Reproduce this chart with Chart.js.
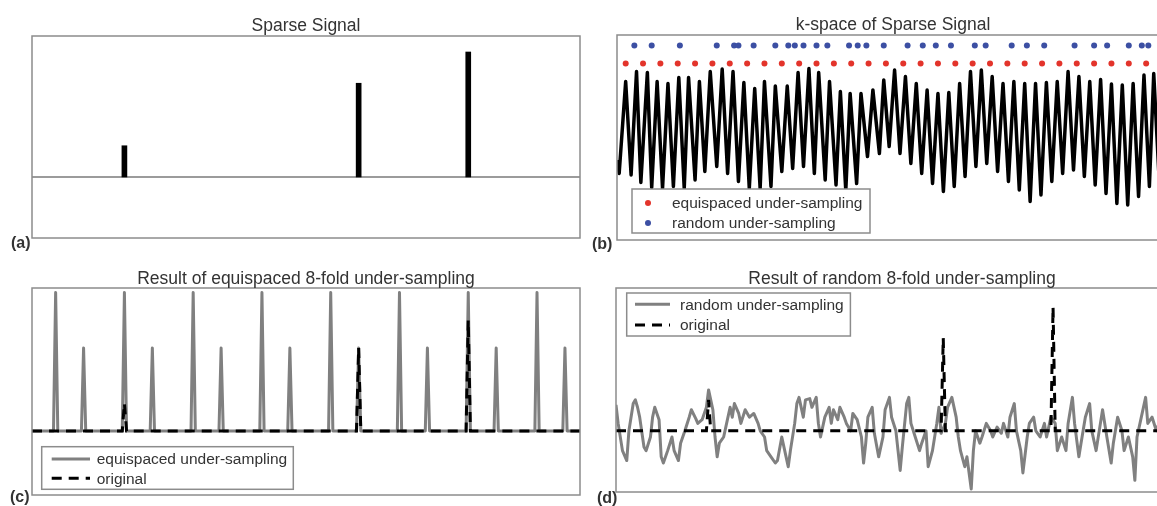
<!DOCTYPE html>
<html><head><meta charset="utf-8">
<script src="https://cdn.jsdelivr.net/npm/chart.js@4.4.1/dist/chart.umd.min.js"></script>
<style>
html,body{margin:0;padding:0;background:#fff;}
body{width:1157px;height:506px;overflow:hidden;position:relative;font-family:"Liberation Sans",Arial,sans-serif;}
canvas{position:absolute;}
.lbl{position:absolute;font-weight:bold;font-size:16px;color:#333;line-height:16px;}
</style></head><body>
<canvas id="ca" width="590" height="250" style="left:0;top:0"></canvas>
<canvas id="cb" width="590" height="250" style="left:590px;top:0"></canvas>
<canvas id="cc" width="590" height="256" style="left:0;top:250px"></canvas>
<canvas id="cd" width="590" height="256" style="left:590px;top:250px"></canvas>
<div class="lbl" style="left:11px;top:235px">(a)</div>
<div class="lbl" style="left:592px;top:236px">(b)</div>
<div class="lbl" style="left:10px;top:489px">(c)</div>
<div class="lbl" style="left:597px;top:490px">(d)</div>
<script>
// ---------------- data ----------------
const N_SAMPLES = 256;
// (a) sparse signal
const sparseIdx = [44, 153, 204];
const sparseVal = [0.25, 0.75, 1.0];

// (b) k-space (real part), read as alternating peaks / troughs
const kIdx = [1,2,5,7.5,10,12,15,17,19.5,22,24.5,27,29.5,32,34,37,39,41.5,44,47,49.5,52,54.5,57,59.5,62,64.5,67,69,72,74,77,79.5,82,84.5,87,89.5,92,94,97,99,102,104,106.5,108.5,111.5,113.5,116.5,119,122,124,126.5,129,131.5,134,136.5,139,141.5,144,146.5,149,151.5,154,156.5,159,161.5,164,166.5,169,171.5,174,176.5,179,181.5,184,186.5,189,191.5,194,196.5,199,201.5,204,206.5,209,211.5,214,216.5,219,221.5,224,226.5,229,231.5,234,236.5,239,241.5,244,246.5,248.5,251,253.5,256];
const kVal = [-0.6,-0.87,0.97,-0.90,1.17,-1.05,1.15,-1.15,0.97,-1.17,0.93,-1.13,1.05,-1.17,1.05,-1.0,0.97,-0.83,1.17,-0.73,1.22,-0.87,1.17,-1.03,0.95,-1.17,0.83,-1.17,0.97,-1.13,0.88,-0.83,0.88,-0.77,1.15,-0.73,1.23,-0.87,1.15,-1.0,0.97,-1.1,0.77,-1.21,0.73,-1.07,0.73,-0.53,0.8,-0.47,1.0,-0.33,1.2,-0.47,1.07,-0.67,0.93,-0.87,0.8,-1.07,0.73,-1.23,0.75,-1.13,0.93,-0.93,1.17,-0.73,1.2,-0.67,1.07,-0.83,0.93,-1.03,0.97,-1.2,0.93,-1.43,0.93,-1.3,0.95,-1.03,0.97,-0.87,1.17,-0.8,1.07,-0.93,0.97,-1.1,1.01,-1.27,0.92,-1.47,0.9,-1.5,0.93,-1.33,1.1,-1.13,1.13,-1.0,1.0,-0.9];
// sampled k-space locations
const equiIdx = [5,13,21,29,37,45,53,61,69,77,85,93,101,109,117,125,133,141,149,157,165,173,181,189,197,205,213,221,229,237,245,253];
const randIdx = [9,17,30,47,55,57,64,74,80,83,87,93,98,108,112,116,124,135,142,148,155,166,171,183,190,198,212,221,227,237,243,246];
const equiRow = 1.33;
const randRow = 1.69;

// (c) equispaced 8-fold reconstruction: aliased copies
const aliasIdx = [12,25,44,57,76,89,108,121,140,153,172,185,204,217,236,249];
const aliasVal = [1.25,0.75,1.25,0.75,1.25,0.75,1.25,0.75,1.25,0.75,1.25,0.75,1.25,0.75,1.25,0.75];

// (d) random 8-fold reconstruction (noisy)
const recIdx = [1,2,4,6,7,9,10,11,12,14,15,17,18,19,21,22,23,25,27,28,30,31,32,33,35,36,38,39,41,43,44,46,47,48,49,51,52,54,55,56,58,59,61,63,65,67,68,70,71,73,75,76,78,80,81,82,84,85,86,88,89,91,92,94,95,96,98,100,101,102,104,105,107,108,110,111,113,115,116,117,118,120,121,123,125,126,128,129,131,132,133,134,136,137,138,140,142,143,145,146,148,150,151,152,154,155,157,159,160,161,163,164,166,167,168,170,171,173,175,176,178,180,181,183,184,186,187,189,190,192,193,195,196,198,200,201,203,205,206,208,210,211,213,214,216,217,219,221,222,224,226,227,229,231,232,234,236,237,239,241,242,243,245,247,248,250,252,254,256];
const recVal = [0.21,0.06,-0.16,-0.24,0.00,0.22,0.25,0.19,0.11,-0.13,-0.16,-0.05,0.11,0.19,0.09,-0.21,-0.26,-0.16,-0.05,-0.16,-0.24,-0.10,-0.05,0.00,0.11,0.17,0.10,0.06,0.09,0.19,0.33,0.17,-0.05,-0.21,-0.10,-0.05,0.03,0.19,0.11,0.22,0.14,0.06,0.17,0.11,0.14,0.06,0.00,-0.05,-0.16,-0.21,-0.26,-0.24,-0.05,-0.21,-0.29,-0.16,0.06,0.22,0.27,0.11,0.25,0.26,0.19,0.27,0.06,-0.05,0.11,0.19,0.06,0.17,0.09,0.19,0.11,0.06,0.00,0.14,0.09,-0.05,-0.26,-0.10,0.11,0.19,-0.02,-0.21,-0.05,0.17,0.27,0.11,0.00,-0.16,-0.32,-0.13,0.22,0.27,0.06,-0.05,-0.16,-0.10,0.00,-0.29,-0.16,0.06,0.19,-0.02,0.06,0.19,0.27,0.11,-0.05,-0.16,-0.29,-0.21,-0.47,-0.16,0.00,-0.10,-0.05,0.06,0.00,-0.05,0.03,-0.02,0.06,-0.05,0.11,0.22,0.00,-0.16,-0.34,-0.05,0.06,0.11,0.00,-0.05,0.06,-0.05,0.11,0.06,-0.16,-0.05,-0.16,0.06,0.27,0.06,-0.21,-0.10,0.11,0.22,0.00,-0.16,0.06,0.17,-0.05,-0.26,-0.10,0.11,0.00,-0.16,-0.05,-0.21,-0.40,-0.05,0.11,0.27,0.06,0.11,0.00,0.10,-0.05];

// ---------------- helpers ----------------
const pts = (xs, ys) => xs.map((x, i) => ({x: x, y: ys[i]}));
const rowPts = (xs, level) => xs.map(x => ({x: x, y: level}));
function spikeTrain(idx, val) {           // flat zero line with the listed samples
  const out = [];
  for (let i = 1; i <= N_SAMPLES; i++) out.push({x: i, y: 0});
  idx.forEach((k, j) => { out[k - 1].y = val[j]; });
  return out;
}

const BOX = '#8c8c8c', TXT = '#333333', GRAY = '#808080';
const RED = '#e3342b', BLUE = '#3c4fa3';
const FONT = '"Liberation Sans", Arial, Helvetica, sans-serif';

function panelPlugin(p) {
  return {
    id: 'panel',
    afterDraw(chart) {
      const ctx = chart.ctx, a = chart.chartArea;
      ctx.save();
      ctx.strokeStyle = BOX; ctx.lineWidth = 1.5;
      ctx.strokeRect(a.left, a.top, a.right - a.left, a.bottom - a.top);
      ctx.fillStyle = TXT;
      ctx.font = '17.5px ' + FONT;
      ctx.textAlign = 'center'; ctx.textBaseline = 'alphabetic';
      ctx.fillText(p.title, p.titleX, a.top - p.titleGap);
      if (p.legend) {
        const L = p.legend;
        ctx.fillStyle = '#fff';
        ctx.fillRect(L.x, L.y, L.w, L.h);
        ctx.strokeStyle = BOX; ctx.lineWidth = 1.5;
        ctx.strokeRect(L.x, L.y, L.w, L.h);
        ctx.font = '15.5px ' + FONT;
        ctx.textAlign = 'left'; ctx.textBaseline = 'middle';
        L.items.forEach((it, i) => {
          const ds = chart.data.datasets[it.ds];
          const y = L.rows[i];
          if (it.kind === 'dot') {
            ctx.fillStyle = ds.backgroundColor;
            ctx.beginPath(); ctx.arc(L.symX + 10, y, 3, 0, Math.PI * 2); ctx.fill();
          } else {
            ctx.strokeStyle = ds.borderColor; ctx.lineWidth = ds.borderWidth;
            ctx.setLineDash(ds.borderDash || []);
            ctx.beginPath(); ctx.moveTo(L.symX, y); ctx.lineTo(L.symX + L.symW, y); ctx.stroke();
            ctx.setLineDash([]);
          }
          ctx.fillStyle = TXT;
          ctx.fillText(ds.label, L.textX, y + 1);
        });
      }
      ctx.restore();
    }
  };
}

function baseOptions(pad, yMin, yMax) {
  return {
    responsive: false, animation: false, devicePixelRatio: 1,
    layout: {padding: pad},
    plugins: {legend: {display: false}, tooltip: {enabled: false}, title: {display: false}},
    scales: {
      x: {type: 'linear', min: 1, max: N_SAMPLES, display: false, offset: false},
      y: {type: 'linear', min: yMin, max: yMax, display: false}
    },
    elements: {point: {radius: 0}, line: {tension: 0}}
  };
}

// ---------------- (a) ----------------
new Chart(document.getElementById('ca'), {
  type: 'bar',
  data: {datasets: [
    {type: 'bar', label: 'sparse', data: pts(sparseIdx, sparseVal), backgroundColor: '#000', barThickness: 5, order: 0},
    {type: 'line', label: 'baseline', data: pts([1, N_SAMPLES], [0, 0]), borderColor: '#7a7a7a', borderWidth: 1.5, order: 1}
  ]},
  options: baseOptions({left: 32, right: 10, top: 36, bottom: 12}, -0.488, 1.128),
  plugins: [panelPlugin({title: 'Sparse Signal', titleX: 306, titleGap: 5.5})]
});

// ---------------- (b) ----------------
new Chart(document.getElementById('cb'), {
  type: 'line',
  data: {datasets: [
    {label: 'equispaced under-sampling', data: rowPts(equiIdx, equiRow), showLine: false, pointRadius: 3, pointBorderWidth: 0, backgroundColor: RED, borderColor: RED, order: 0},
    {label: 'random under-sampling', data: rowPts(randIdx, randRow), showLine: false, pointRadius: 3, pointBorderWidth: 0, backgroundColor: BLUE, borderColor: BLUE, order: 0},
    {label: 'k-space', data: pts(kIdx, kVal), borderColor: '#000', borderWidth: 3.5, borderJoinStyle: 'round', order: 2}
  ]},
  options: baseOptions({left: 27, right: 10, top: 35, bottom: 10}, -2.2, 1.9),
  plugins: [panelPlugin({title: 'k-space of Sparse Signal', titleX: 303, titleGap: 5,
    legend: {x: 42, y: 189, w: 238, h: 44, symX: 48, symW: 20, textX: 82, rows: [203, 223],
      items: [{ds: 0, kind: 'dot'}, {ds: 1, kind: 'dot'}]}})]
});

// ---------------- (c) ----------------
new Chart(document.getElementById('cc'), {
  type: 'line',
  data: {datasets: [
    {label: 'equispaced under-sampling', data: spikeTrain(aliasIdx, aliasVal), borderColor: GRAY, borderWidth: 3, borderJoinStyle: 'round', order: 2},
    {label: 'original', data: spikeTrain(sparseIdx, sparseVal), borderColor: '#000', borderWidth: 3, borderDash: [10, 7], order: 1}
  ]},
  options: baseOptions({left: 32, right: 10, top: 38, bottom: 11}, -0.577, 1.291),
  plugins: [panelPlugin({title: 'Result of equispaced 8-fold under-sampling', titleX: 306, titleGap: 4.5,
    legend: {x: 41.7, y: 196.7, w: 251.6, h: 42.6, symX: 51.7, symW: 38.3, textX: 96.7, rows: [209, 228.3],
      items: [{ds: 0, kind: 'line'}, {ds: 1, kind: 'line'}]}})]
});

// ---------------- (d) ----------------
new Chart(document.getElementById('cd'), {
  type: 'line',
  data: {datasets: [
    {label: 'random under-sampling', data: pts(recIdx, recVal), borderColor: GRAY, borderWidth: 3, borderJoinStyle: 'round', order: 2},
    {label: 'original', data: spikeTrain(sparseIdx, sparseVal), borderColor: '#000', borderWidth: 3, borderDash: [10, 7], order: 1}
  ]},
  options: baseOptions({left: 26, right: 15, top: 38, bottom: 14}, -0.494, 1.153),
  plugins: [panelPlugin({title: 'Result of random 8-fold under-sampling', titleX: 312, titleGap: 4,
    legend: {x: 36.7, y: 43, w: 223.7, h: 43, symX: 45, symW: 35, textX: 90, rows: [54.3, 75],
      items: [{ds: 0, kind: 'line'}, {ds: 1, kind: 'line'}]}})]
});
</script>
</body></html>
